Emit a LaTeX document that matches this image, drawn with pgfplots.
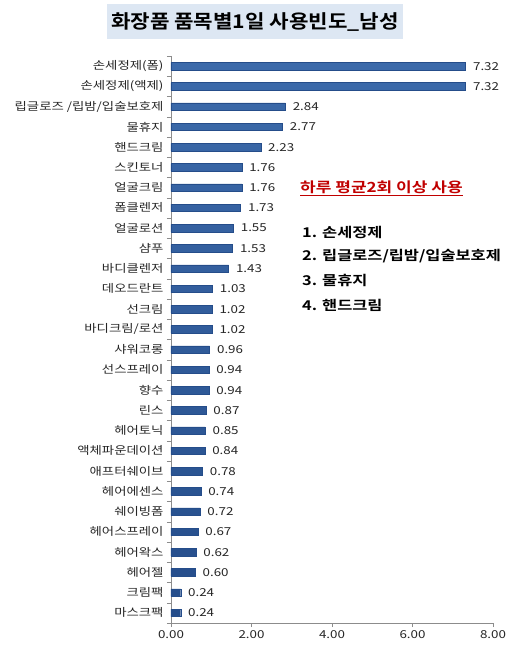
\documentclass[border=0pt]{standalone}
\usepackage{fontspec}
\setmainfont{Noto Sans CJK KR}[BoldFont={Noto Sans CJK KR Bold}]
\newfontfamily\lbl{Noto Sans CJK KR}[FakeStretch=1.22]
\newfontfamily\lblb{Noto Sans CJK KR Bold}[FakeStretch=1.22]
\newfontfamily\ttl{Noto Sans CJK KR Bold}[FakeStretch=1.12]
\usepackage{pgfplots}
\pgfplotsset{compat=1.18}
\definecolor{bardark}{HTML}{254D8A}
\definecolor{barlight}{HTML}{86AADA}
\definecolor{bartop}{HTML}{3C6AAA}
\definecolor{titlebg}{HTML}{DDE7F3}
\definecolor{axisgray}{HTML}{8C8C8C}
\definecolor{annred}{HTML}{C00000}
\begin{document}
\begin{tikzpicture}
\useasboundingbox (-171bp,-30bp) rectangle (339bp,623bp);
\begin{axis}[
  at={(0,0)}, anchor=south west,
  scale only axis, width=322bp, height=567bp,
  xbar, bar width=7.5bp,
  xmin=0, xmax=8, ymin=-0.5, ymax=27.5, y dir=reverse,
  axis x line*=bottom, axis y line*=left,
  axis line style={draw=axisgray, line width=0.6pt},
  xtick={0,2,4,6,8},
  xticklabels={0.00,2.00,4.00,6.00,8.00},
  ytick={0,...,27},
  yticklabels={손세정제(폼),손세정제(액제),립글로즈 /립밤/입술보호제,물휴지,핸드크림,스킨토너,얼굴크림,폼클렌저,얼굴로션,샴푸,바디클렌저,데오드란트,선크림,바디크림/로션,샤워코롱,선스프레이,향수,린스,헤어토닉,액체파운데이션,애프터쉐이브,헤어에센스,쉐이빙폼,헤어스프레이,헤어왁스,헤어젤,크림팩,마스크팩},
  minor ytick={-0.5,0.5,...,27.5},
  major y tick style={draw=none},
  minor y tick style={draw=axisgray, line width=0.5pt},
  x tick style={draw=axisgray, line width=0.5pt},
  tick align=outside, major tick length=4bp, minor tick length=4bp,
  yticklabel style={font=\lbl\fontsize{11}{12}\selectfont, text=black!85},
  xticklabel style={font=\lbl\fontsize{11}{12}\selectfont, text=black!85},
  point meta=x,
  nodes near coords={\pgfmathprintnumber[assume math mode=true,fixed,fixed zerofill,precision=2]{\pgfplotspointmeta}},
  nodes near coords style={font=\lbl\fontsize{11}{12}\selectfont, anchor=west, xshift=4bp, text=black!85},
]
\addplot[draw=bardark, line width=0.3pt, top color=bartop, middle color=barlight, bottom color=bardark] coordinates {
(7.32,0) (7.32,1) (2.84,2) (2.77,3) (2.23,4) (1.76,5) (1.76,6) (1.73,7) (1.55,8) (1.53,9)
(1.43,10) (1.03,11) (1.02,12) (1.02,13) (0.96,14) (0.94,15) (0.94,16) (0.87,17) (0.85,18) (0.84,19)
(0.78,20) (0.74,21) (0.72,22) (0.67,23) (0.62,24) (0.60,25) (0.24,26) (0.24,27)
};
\end{axis}
\node[fill=titlebg, minimum width=296bp, minimum height=35bp, inner sep=0pt, font=\ttl\fontsize{19}{22}\selectfont] at (84bp,601bp) {화장품 품목별1일 사용빈도\_남성};
\node[anchor=west, inner sep=0pt, text=annred, font=\lblb\fontsize{14}{16}\selectfont] at (129bp,435bp) {\underline{하루 평균2회 이상 사용}};
\node[anchor=west, inner sep=0pt, font=\lblb\fontsize{13.5}{15}\selectfont] at (131bp,391bp) {1. 손세정제};
\node[anchor=west, inner sep=0pt, font=\lblb\fontsize{13.5}{15}\selectfont] at (131bp,367bp) {2. 립글로즈/립밤/입술보호제};
\node[anchor=west, inner sep=0pt, font=\lblb\fontsize{13.5}{15}\selectfont] at (131bp,343bp) {3. 물휴지};
\node[anchor=west, inner sep=0pt, font=\lblb\fontsize{13.5}{15}\selectfont] at (131bp,318bp) {4. 핸드크림};
\end{tikzpicture}
\end{document}
